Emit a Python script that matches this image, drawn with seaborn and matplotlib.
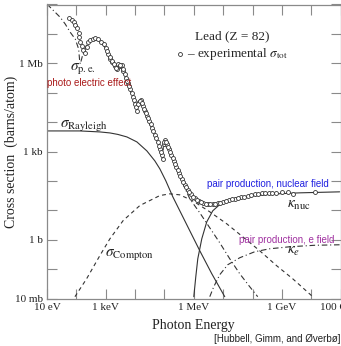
import numpy as np
import matplotlib
matplotlib.use("Agg")
import matplotlib.pyplot as plt
import seaborn as sns

# ---------------- data (log10 of energy in eV, log10 of cross section in barns) ----------------
exp_logE = [1.748, 1.850, 1.918, 1.969, 2.037, 2.078, 2.105, 2.139, 2.190, 2.241, 2.310, 2.361,
            2.412, 2.480, 2.565, 2.650, 2.752, 2.854, 2.939, 3.024, 3.092, 3.160, 3.228, 3.313,
            3.381, 3.432, 3.500, 3.551, 3.602, 3.687, 3.755, 3.840, 3.925, 3.993, 4.061, 4.129,
            4.197, 4.265, 4.333, 4.401, 4.486, 4.571, 4.673, 4.776, 4.844, 4.912, 4.946, 4.980,
            5.031, 5.082, 5.150, 5.235, 5.320, 5.405, 5.490, 5.592, 5.694, 5.796, 5.898, 6.034,
            6.170, 6.323, 6.476, 6.646, 6.816, 6.986, 7.190, 7.395, 7.599, 7.837, 8.075, 8.313,
            8.551, 8.789, 8.993, 9.197, 9.367, 10.116,
            3.06, 3.13, 3.20, 3.27, 3.35, 3.47, 3.58, 3.64, 3.72, 3.80, 3.88, 3.96, 4.03, 4.10,
            4.16, 4.23, 4.30, 4.37, 4.44, 4.53, 4.62, 4.72, 4.81, 4.88, 5.00, 5.06, 5.12, 5.19,
            5.28, 5.36, 5.45, 5.54, 5.64, 5.75, 5.85, 5.97, 6.10, 6.25, 6.40, 6.56, 6.73, 6.90,
            7.09, 7.29, 7.50, 7.72, 7.95, 8.19, 8.43, 8.67]
exp_logS = [7.538, 7.470, 7.402, 7.317, 7.199, 7.029, 6.893, 6.723, 6.588, 6.452, 6.350, 6.553,
            6.723, 6.791, 6.825, 6.859, 6.825, 6.740, 6.655, 6.537, 6.316, 6.146, 6.044, 5.908,
            5.806, 5.976, 5.908, 5.942, 5.739, 5.501, 5.331, 5.127, 4.856, 4.618, 4.380, 4.686,
            4.754, 4.550, 4.380, 4.211, 4.041, 3.803, 3.565, 3.328, 3.090, 2.886, 2.750, 3.260,
            3.396, 3.260, 3.090, 2.886, 2.683, 2.479, 2.275, 2.071, 1.868, 1.698, 1.545, 1.409,
            1.307, 1.239, 1.205, 1.205, 1.239, 1.290, 1.341, 1.392, 1.443, 1.494, 1.545, 1.579,
            1.596, 1.596, 1.613, 1.613, 1.545, 1.613,
            6.43, 6.22, 6.09, 5.97, 5.85, 5.93, 5.82, 5.62, 5.41, 5.23, 4.99, 4.74, 4.50, 4.60,
            4.73, 4.66, 4.46, 4.30, 4.13, 3.92, 3.69, 3.45, 3.20, 2.99, 3.34, 3.33, 3.17, 2.99,
            2.78, 2.58, 2.38, 2.17, 1.97, 1.78, 1.62, 1.47, 1.35, 1.27, 1.22, 1.20, 1.22, 1.26,
            1.32, 1.37, 1.42, 1.47, 1.52, 1.56, 1.59, 1.60]

pe_logE = [1.000, 1.228, 1.452, 1.622, 1.793, 1.963, 2.078, 2.112, 2.133, 2.224, 2.361, 2.531,
           2.735, 2.871, 3.007, 3.143, 3.313, 3.381, 3.432, 3.517, 3.585, 3.755, 3.925, 4.061,
           4.095, 4.197, 4.265, 4.401, 4.571, 4.776, 4.946, 4.963, 5.116, 5.354, 5.524, 5.694,
           5.864, 6.204, 6.544, 6.884, 7.224, 7.565, 7.905, 8.177]
pe_logS = [8.014, 7.786, 7.562, 7.334, 7.053, 6.825, 6.486, 6.088, 5.976, 6.316, 6.655, 6.791,
           6.774, 6.689, 6.486, 6.146, 5.874, 5.772, 5.942, 5.874, 5.705, 5.297, 4.822, 4.346,
           4.652, 4.720, 4.516, 4.177, 3.769, 3.260, 2.716, 3.226, 3.124, 2.649, 2.207, 1.766,
           1.392, 0.917, 0.407, -0.102, -0.645, -1.155, -1.596, -1.935]

ray_logE = [1.000, 2.122, 2.803, 3.143, 3.415, 3.721, 4.061, 4.401, 4.673, 4.844, 5.048, 5.286,
            5.694, 6.204, 6.612, 7.054]
ray_logS = [3.701, 3.701, 3.667, 3.633, 3.582, 3.497, 3.328, 3.022, 2.683, 2.411, 2.003, 1.460,
            0.645, -0.373, -1.154, -1.935]

comp_logE = [1.952, 2.350, 2.803, 3.143, 3.595, 4.163, 4.844, 5.184, 5.524, 5.966, 6.544, 7.122,
             7.667, 8.245, 8.823, 9.367, 10.014]
comp_logS = [-1.935, -1.324, -0.533, 0.034, 0.655, 1.165, 1.504, 1.562, 1.528, 1.324, 0.951, 0.543,
             0.102, -0.373, -0.883, -1.324, -1.902]

knuc_logE = [6.000, 6.034, 6.068, 6.136, 6.272, 6.442, 6.646, 6.986, 7.463, 8.007, 8.823, 9.605, 10.966]
knuc_logS = [-1.935, -1.596, -1.256, -0.645, 0.034, 0.611, 0.985, 1.290, 1.426, 1.494, 1.562, 1.596, 1.630]

ke_logE = [6.544, 6.680, 6.884, 7.156, 7.565, 8.075, 8.585, 9.265, 10.116, 10.966]
ke_logS = [-1.935, -1.596, -1.188, -0.849, -0.611, -0.407, -0.306, -0.238, -0.187, -0.170]

x_tick_vals = [1e1, 1e2, 1e3, 1e4, 1e5, 1e6, 1e7, 1e8, 1e9, 1e10, 1e11]
x_tick_labels = ['10 eV', '', '1 keV', '', '', '1 MeV', '', '', '1 GeV', '', '100 GeV']
y_tick_vals = [1e-2, 1e-1, 1e0, 1e1, 1e2, 1e3, 1e4, 1e5, 1e6, 1e7, 1e8]
y_tick_labels = ['10 mb', '', '1 b', '', '', '1 kb', '', '', '1 Mb', '', '']

# ---------------- style ----------------
sns.set_theme(style="ticks")
plt.rcParams['font.family'] = ['Liberation Serif', 'DejaVu Serif']
plt.rcParams['mathtext.fontset'] = 'stix'

SANS = ['Liberation Sans', 'DejaVu Sans']
LINE = '#333333'
SPINE = '#8a8a8a'

fig = plt.figure(figsize=(3.41, 3.46), dpi=100)
W, H = 341, 346
x0, x1, ytop, ybot = 47, 340.6, 4.5, 298.6
ax = fig.add_axes([x0 / W, 1 - ybot / H, (x1 - x0) / W, (ybot - ytop) / H])
ax.set_xscale('log')
ax.set_yscale('log')

def P(a):
    return np.power(10.0, np.asarray(a))

sns.lineplot(x=P(pe_logE), y=P(pe_logS), ax=ax, estimator=None, sort=False,
             color=LINE, lw=0.8, ls=(0, (5, 2.5, 1, 2.5)), zorder=2)
sns.lineplot(x=P(ray_logE), y=P(ray_logS), ax=ax, estimator=None, sort=False,
             color=LINE, lw=0.8, zorder=2)
sns.lineplot(x=P(comp_logE), y=P(comp_logS), ax=ax, estimator=None, sort=False,
             color=LINE, lw=0.8, ls=(0, (3.5, 3)), zorder=2)
sns.lineplot(x=P(knuc_logE), y=P(knuc_logS), ax=ax, estimator=None, sort=False,
             color=LINE, lw=0.8, zorder=2)
sns.lineplot(x=P(ke_logE), y=P(ke_logS), ax=ax, estimator=None, sort=False,
             color=LINE, lw=0.8, ls=(0, (5, 2.5, 1, 2.5)), zorder=2)
sns.scatterplot(x=P(exp_logE), y=P(exp_logS), ax=ax, marker='o', s=8,
                facecolor='white', edgecolor=LINE, linewidth=0.6, zorder=3,
                label=u'\u2013 experimental $\\sigma_{\\rm tot}$')

ax.set_xlim(1e1, 1e11)
ax.set_ylim(1e-2, 1e8)
ax.set_xticks(x_tick_vals)
ax.set_xticklabels(x_tick_labels)
ax.set_yticks(y_tick_vals)
ax.set_yticklabels(y_tick_labels)
ax.minorticks_off()
ax.tick_params(which='major', direction='in', length=7, width=0.8, color=SPINE,
               top=True, right=True, labelsize=8, pad=3, labelcolor='#222222')
for s in ax.spines.values():
    s.set_color(SPINE)
    s.set_linewidth(0.9)

ax.set_xlabel('Photon Energy', fontsize=10, labelpad=5, color='#222222')
ax.set_ylabel('Cross section  (barns/atom)', fontsize=10, color='#222222')
ax.yaxis.set_label_coords(-0.10, 0.50)

def fx(px):
    return (px - x0) / (x1 - x0)

def fy(py):
    return (ybot - py) / (ybot - ytop)

tr = ax.transAxes
ax.text(fx(70), fy(70), r'$\sigma_{\rm p.e.}$', transform=tr, fontsize=11, color='#222222',
        ha='left', va='baseline', zorder=5)
ax.text(fx(47.5), fy(82.5), 'photo electric effect', transform=tr, fontsize=7, family=SANS,
        color='#aa1a1a', ha='left', va='center', zorder=6)
ax.text(fx(60), fy(127), r'$\sigma_{\rm Rayleigh}$', transform=tr, fontsize=11, color='#222222',
        ha='left', va='baseline')
ax.text(fx(105), fy(256), r'$\sigma_{\rm Compton}$', transform=tr, fontsize=11, color='#222222',
        ha='left', va='baseline')
ax.text(fx(287), fy(208), r'$\kappa_{\rm nuc}$', transform=tr, fontsize=11, color='#222222',
        ha='left', va='baseline')
ax.text(fx(287), fy(254), r'$\kappa_{e}$', transform=tr, fontsize=11, color='#222222',
        ha='left', va='baseline')
ax.text(fx(207), fy(184), 'pair production, nuclear field', transform=tr, fontsize=7,
        family=SANS, color='#2020e0', ha='left', va='center')
ax.text(fx(239), fy(240), 'pair production, e field', transform=tr, fontsize=7,
        family=SANS, color='#a030a0', ha='left', va='center')

leg = ax.legend(loc='center', bbox_to_anchor=(fx(232), fy(46)), frameon=False,
                title='Lead (Z = 82)', fontsize=9.5, title_fontsize=9.5,
                handlelength=0.5, handletextpad=0.3, borderpad=0, labelspacing=0.2)
leg._legend_box.sep = 3

fig.text(340 / W, 1 - 339 / H, u'[Hubbell, Gimm, and \u00d8verb\u00f8]', fontsize=7,
         family=SANS, color='#222222', ha='right', va='center')

fig.savefig('out.png', dpi=100)
